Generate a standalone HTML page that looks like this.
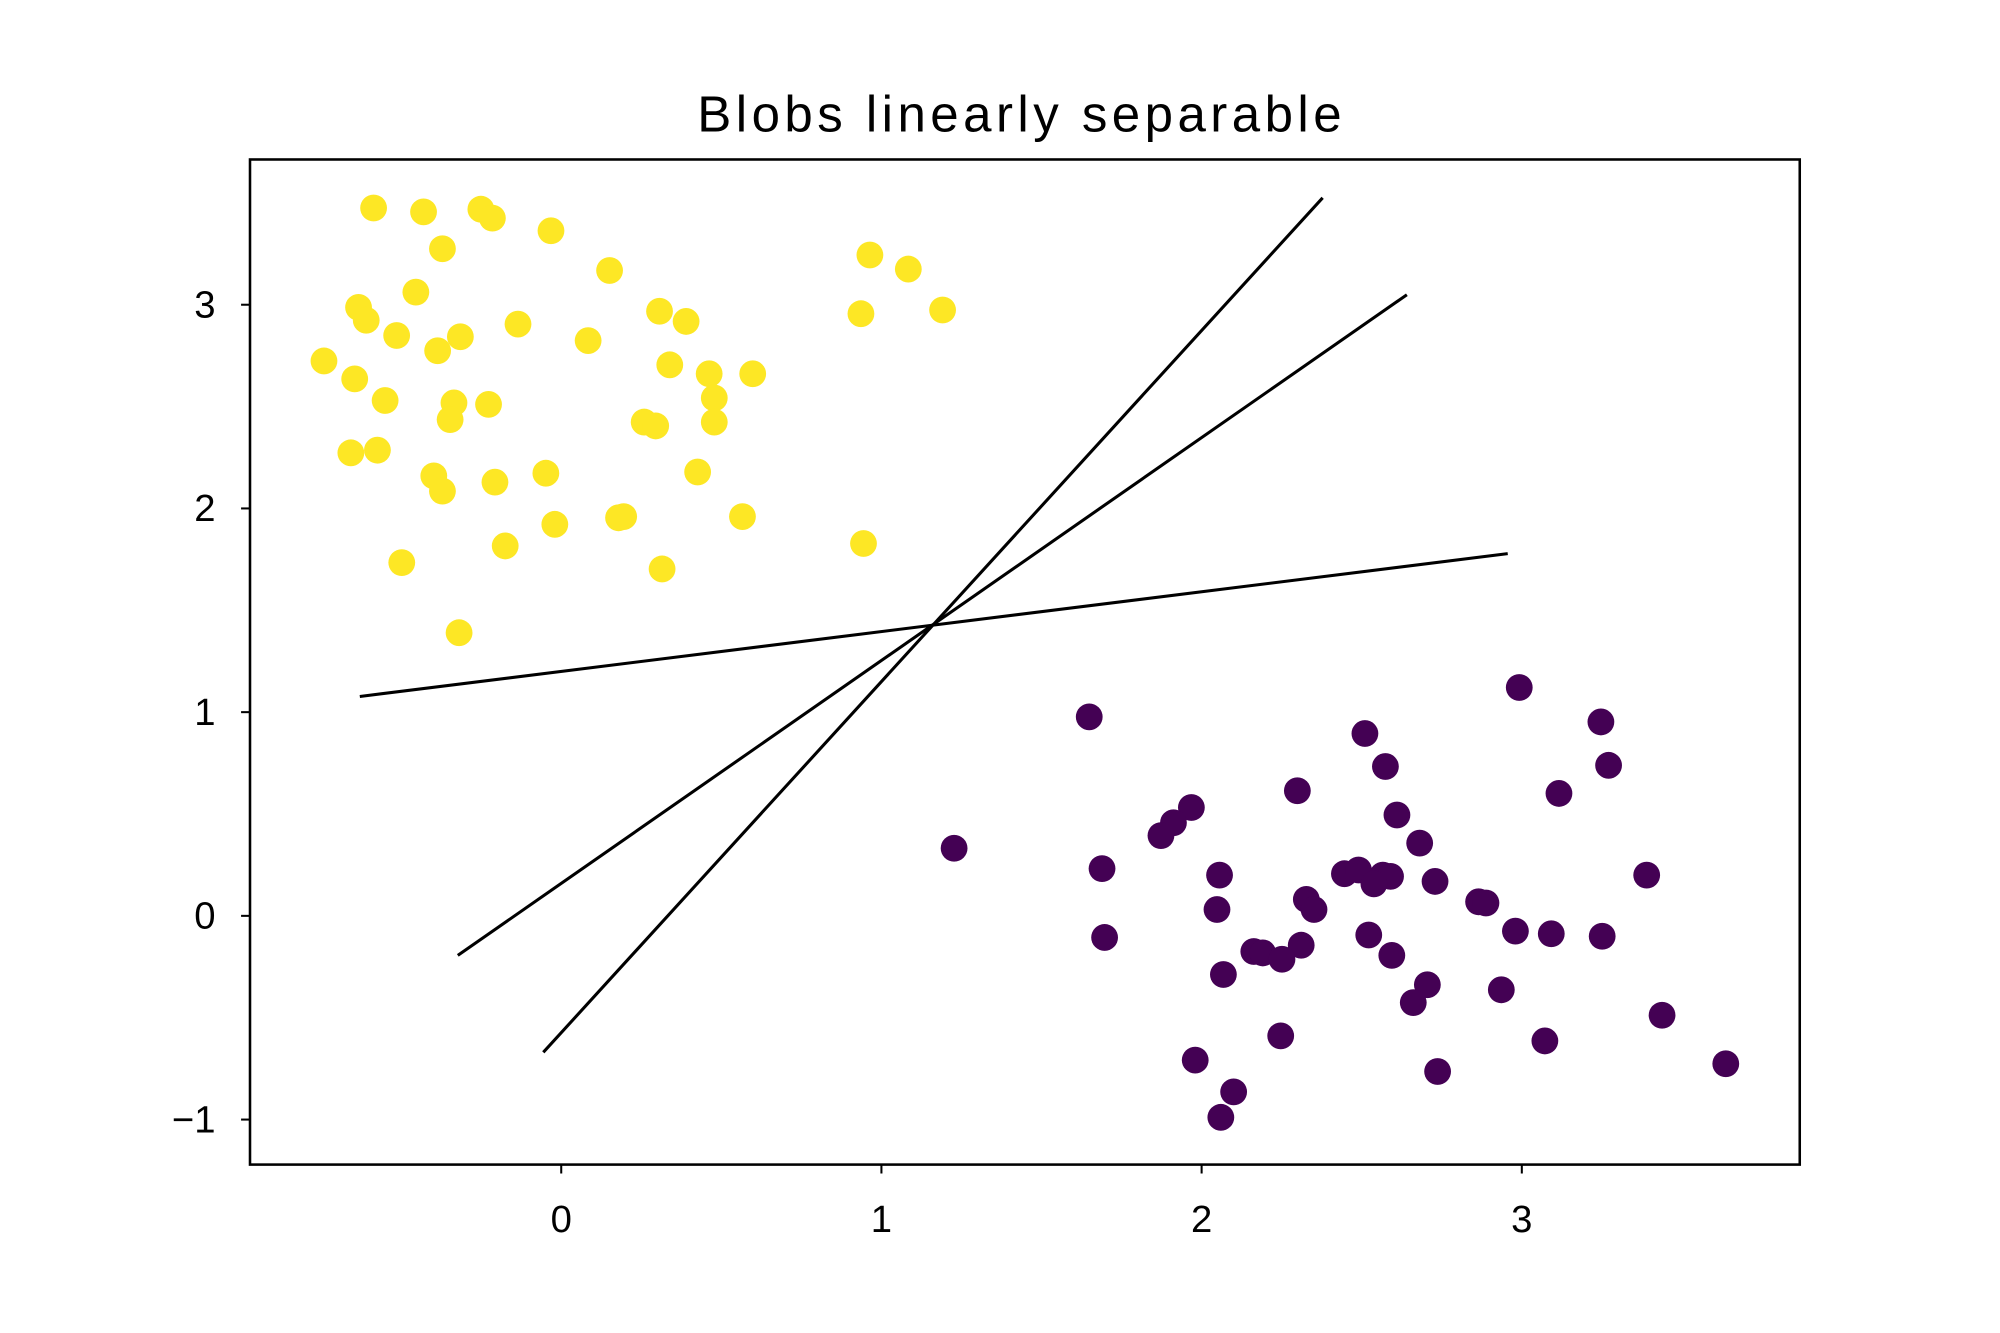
<!DOCTYPE html>
<html><head><meta charset="utf-8"><style>
html,body{margin:0;padding:0;background:#fff}
svg{display:block}
text{font-family:"Liberation Sans",sans-serif;fill:#000}
</style></head><body>
<svg id="chart" width="2000" height="1333" viewBox="0 0 1568 1045" xmlns="http://www.w3.org/2000/svg">
<rect width="1568" height="1045" fill="#fff"/>
<text x="801" y="103" font-size="40" text-anchor="middle" letter-spacing="3.5">Blobs linearly separable</text>
<g id="marks"></g>
<rect x="196" y="125" width="1215" height="788" fill="none" stroke="#000" stroke-width="2"/>
<g id="axes"></g>
</svg>
<script>
const xTicks=[0,1,2,3];
const yTicks=[-1,0,1,2,3];
const yellowX=[-0.586,-0.430,-0.251,-0.215,-0.032,-0.371,0.151,0.964,1.084,-0.454,-0.633,-0.609,0.307,0.390,0.936,1.191,-0.135,-0.514,-0.315,0.084,-0.386,-0.741,0.339,-0.645,0.462,0.598,-0.550,-0.335,-0.227,0.478,-0.347,0.259,0.295,0.478,-0.657,-0.574,-0.398,0.426,-0.048,-0.207,-0.371,0.195,0.179,0.566,-0.020,-0.175,0.944,-0.498,0.315,-0.319];
const yellowY=[3.475,3.456,3.469,3.425,3.363,3.275,3.168,3.244,3.175,3.062,2.987,2.924,2.968,2.918,2.956,2.974,2.905,2.849,2.843,2.824,2.774,2.724,2.705,2.636,2.661,2.661,2.530,2.518,2.511,2.542,2.436,2.424,2.405,2.424,2.273,2.286,2.160,2.179,2.173,2.129,2.085,1.960,1.954,1.960,1.922,1.816,1.828,1.734,1.703,1.390];
const purpleX=[1.649,2.992,3.247,2.510,2.574,3.271,2.299,3.116,1.968,1.912,1.873,2.610,1.227,2.681,1.689,2.056,2.446,2.490,2.566,2.590,2.538,2.729,3.390,2.327,2.351,2.048,2.865,2.888,2.522,2.980,3.092,3.251,1.697,2.163,2.191,2.311,2.251,2.594,2.068,2.705,2.661,2.936,3.438,2.247,3.072,3.637,1.980,2.737,2.100,2.060];
const purpleY=[0.977,1.121,0.952,0.895,0.733,0.739,0.614,0.601,0.532,0.457,0.394,0.495,0.332,0.357,0.232,0.200,0.207,0.225,0.200,0.194,0.157,0.169,0.200,0.081,0.031,0.031,0.069,0.063,-0.094,-0.075,-0.088,-0.100,-0.106,-0.175,-0.182,-0.144,-0.213,-0.194,-0.288,-0.338,-0.426,-0.363,-0.488,-0.589,-0.614,-0.726,-0.708,-0.764,-0.864,-0.989];
const lineX1=[-0.629,-0.323,-0.056];
const lineY1=[1.077,-0.194,-0.670];
const lineX2=[2.956,2.641,2.378];
const lineY2=[1.778,3.049,3.525];

const NS="http://www.w3.org/2000/svg";
const xMin=-0.972,xMax=3.868,yMin=-1.221,yMax=3.713;
const L=196,R=1411,T=125,B=913;
function sx(v){return L+(v-xMin)/(xMax-xMin)*(R-L);}
function sy(v){return B-(v-yMin)/(yMax-yMin)*(B-T);}
const marks=document.getElementById('marks');
const axes=document.getElementById('axes');
function mk(tag,attrs,parent){const e=document.createElementNS(NS,tag);for(const k in attrs)e.setAttribute(k,attrs[k]);parent.appendChild(e);return e;}

for(let i=0;i<yellowX.length;i++){
  const c=mk('circle',{cx:sx(yellowX[i]),cy:sy(yellowY[i]),r:10.5,fill:'#fde725'},marks);
  
  
}
for(let i=0;i<purpleX.length;i++){
  const c=mk('circle',{cx:sx(purpleX[i]),cy:sy(purpleY[i]),r:10.5,fill:'#440154'},marks);
  
  
}
for(let i=0;i<lineX1.length;i++){
  const l=mk('line',{x1:sx(lineX1[i]),y1:sy(lineY1[i]),x2:sx(lineX2[i]),y2:sy(lineY2[i]),stroke:'#000','stroke-width':2.4},marks);
  
  
}
xTicks.forEach(v=>{
  const x=sx(v);
  const t=mk('line',{x1:x,y1:B,x2:x,y2:B+7,stroke:'#000','stroke-width':1.6},axes);
  
  
  const tx=mk('text',{x:x,y:B+53,'font-size':30,'text-anchor':'middle'},axes);
  tx.textContent=String(v);
  
  
});
yTicks.forEach(v=>{
  const y=sy(v);
  const t=mk('line',{x1:L-7,y1:y,x2:L,y2:y,stroke:'#000','stroke-width':1.6},axes);
  
  
  const tx=mk('text',{x:L-27,y:y+10,'font-size':30,'text-anchor':'end'},axes);
  tx.textContent=v<0?'\u2212'+Math.abs(v):String(v);
  
  
});
</script>
</body></html>
